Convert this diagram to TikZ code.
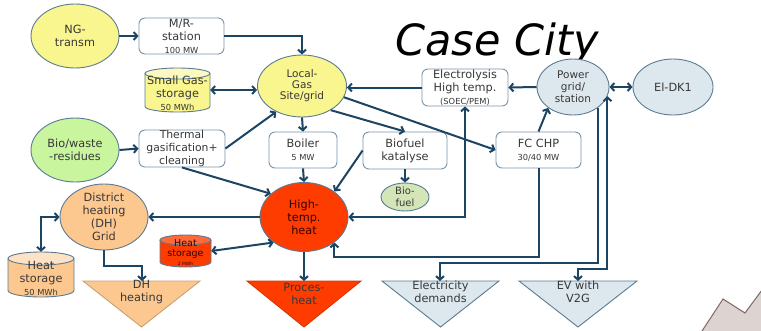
\documentclass[tikz,border=0pt]{standalone}
\usepackage{fontspec}
\setmainfont{DejaVu Sans}
\newfontfamily\titlefont{DejaVu Sans}
\usetikzlibrary{arrows.meta,shapes.geometric,calc}
\definecolor{ylw}{HTML}{F9F58F}
\definecolor{ylwtop}{HTML}{FBF9C0}
\definecolor{grn}{HTML}{C8F59E}
\definecolor{peach}{HTML}{FCC890}
\definecolor{peachtop}{HTML}{FDE2C6}
\definecolor{hot}{HTML}{FF3C00}
\definecolor{hottop}{HTML}{FF6A3A}
\definecolor{lblue}{HTML}{DDE8EE}
\definecolor{bfgrn}{HTML}{D4E6B8}
\definecolor{eborder}{HTML}{5B7B92}
\definecolor{bborder}{HTML}{7A96AA}
\definecolor{arr}{HTML}{1B4563}
\definecolor{txt}{HTML}{383838}
\definecolor{rock}{HTML}{DDD3D0}
\definecolor{rockline}{HTML}{7A6A62}
\newcommand\mycyl[6]{%
  \fill[#6] (#1-#3/2,#2-#4/2+#5) -- (#1-#3/2,#2+#4/2-#5)
    arc[start angle=180,end angle=0,x radius=#3/2,y radius=#5]
    -- (#1+#3/2,#2-#4/2+#5)
    arc[start angle=0,end angle=-180,x radius=#3/2,y radius=#5] -- cycle;
  \draw[eborder,line width=0.9pt] (#1-#3/2,#2-#4/2+#5) -- (#1-#3/2,#2+#4/2-#5)
    arc[start angle=180,end angle=0,x radius=#3/2,y radius=#5]
    -- (#1+#3/2,#2-#4/2+#5);
  \draw[eborder,line width=0.9pt,fill=#6top] (#1,#2-#4/2+#5) ellipse[x radius=#3/2,y radius=#5];
}
\tikzset{
  tip/.tip={Straight Barb[length=3.6pt,width=8pt]},
  conn/.style={draw=arr,line width=2pt,-tip},
  bconn/.style={draw=arr,line width=2pt,tip-tip},
  lbl/.style={align=center,text=txt,font=\fontsize{11.3}{13}\selectfont,inner sep=0pt},
  elli/.style={ellipse,draw=eborder,line width=0.9pt,inner sep=0pt},
  box/.style={rectangle,rounded corners=6pt,draw=bborder,fill=white,line width=0.9pt,inner sep=0pt},
  ghost/.style={rectangle,inner sep=0pt},
  tri/.style={line width=0.9pt},
}
\newcommand\sm[1]{{\fontsize{8.3}{9}\selectfont #1}}
\begin{document}
\begin{tikzpicture}[x=1pt,y=-1pt]
\path[use as bounding box,fill=white] (0,0) rectangle (761,330);
% rock shape lower right
\draw[rockline,line width=1pt,fill=rock] (702,331) -- (723,299) -- (745,313) -- (762,290) -- (762,331);
% title
\node[anchor=base,inner sep=0pt,font=\titlefont\itshape\fontsize{43}{48}\selectfont] (title) at (497,55) {Case City};

% triangles
\draw[tri,draw=peach!80!black,fill=peach] (83,281) -- (200,281) -- (141.5,327) -- cycle;
\draw[tri,draw=hot!85!black,fill=hot] (247,281) -- (361,281) -- (304,327) -- cycle;
\draw[tri,draw=eborder,fill=lblue] (382,281) -- (499,281) -- (440.5,327) -- cycle;
\draw[tri,draw=eborder,fill=lblue] (519,281) -- (637,281) -- (578,327) -- cycle;
\coordinate (dhh) at (142,281);
\coordinate (proc) at (304,281);
\coordinate (ed) at (440,281);
\coordinate (ev) at (578,281);
\node[lbl] (dhhtxt) at (141.5,292.5) {DH\\heating};
\node[lbl] (proctxt) at (304,293.5) {Proces-\\heat};
\node[lbl] (edtxt) at (440.5,292) {Electricity\\demands};
\node[lbl] (evtxt) at (578,291.5) {EV with\\V2G};

% cylinders
\mycyl{177.5}{90}{65}{44}{5.5}{ylw}
\node[ghost,minimum width=65pt,minimum height=44pt] (sgs) at (177.5,90) {};
\node[lbl] (sgstxt) at (177.5,93) {Small Gas-\\storage\\\sm{50 MWh}};
\mycyl{41}{274.5}{66}{45}{6.5}{peach}
\node[ghost,minimum width=66pt,minimum height=45pt] (hs50) at (41,274.5) {};
\node[lbl] (hs50txt) at (41,278.5) {Heat\\storage\\\sm{50 MWh}};
\mycyl{185.5}{251}{51}{32}{5}{hot}
\node[ghost,minimum width=51pt,minimum height=32pt] (hs2) at (185.5,251) {};
\node[lbl,font=\fontsize{9.5}{9.5}\selectfont,text=black!80!red] (hs2txt) at (185.5,253) {Heat\\storage\\{\fontsize{4.5}{5}\selectfont 2 MWh}};

% ellipses
\node[elli,fill=ylw,minimum width=88pt,minimum height=64pt,label={[lbl]center:NG-\\transm}] (ng) at (75,36) {};
\node[elli,fill=ylw,minimum width=89pt,minimum height=62pt,label={[lbl,font=\fontsize{10.5}{11}\selectfont]center:Local-\\Gas\\Site/grid}] (gas) at (302,86) {};
\node[elli,fill=grn,minimum width=88pt,minimum height=64pt,label={[lbl]center:Bio/waste\\-residues}] (bio) at (75,150) {};
\node[elli,fill=lblue,minimum width=72pt,minimum height=56pt,label={[lbl,font=\fontsize{10.5}{12}\selectfont]center:Power\\grid/\\station}] (pg) at (573,87) {};
\node[elli,fill=lblue,minimum width=80pt,minimum height=56pt,label={[lbl]center:El-DK1}] (dk) at (673,87) {};
\node[elli,fill=hot,minimum width=88pt,minimum height=69pt,label={[lbl,text=black!80!red]center:High-\\temp.\\heat}] (heat) at (304,217) {};
\node[elli,fill=peach,minimum width=88pt,minimum height=66pt,label={[lbl]center:District\\heating\\(DH)\\Grid}] (dh) at (104,217) {};
\node[elli,fill=bfgrn,minimum width=48pt,minimum height=28pt,label={[lbl,font=\fontsize{10}{12}\selectfont]center:Bio-\\fuel}] (biofuel) at (405,197) {};

% boxes
\node[box,minimum width=85pt,minimum height=36pt,label={[lbl]center:M/R-\\station\\\sm{100 MW}}] (mr) at (181.5,36) {};
\node[box,minimum width=86pt,minimum height=37pt,label={[lbl,font=\fontsize{10.8}{13}\selectfont]center:Thermal\\gasification+\\cleaning}] (tg) at (182,148.5) {};
\node[box,minimum width=68pt,minimum height=36pt,label={[lbl]center:Boiler\\\sm{5 MW}}] (boiler) at (303,150) {};
\node[box,minimum width=84pt,minimum height=37pt,label={[lbl]center:Biofuel\\katalyse}] (biokat) at (405,150.5) {};
\node[box,minimum width=85pt,minimum height=36pt,label={[lbl]center:FC CHP\\\sm{30/40 MW}}] (fc) at (538.5,150) {};
\node[box,minimum width=86pt,minimum height=37pt,label={[lbl]center:Electrolysis\\High temp.\\\sm{(SOEC/PEM)}}] (el) at (465,87.5) {};

% connectors
\draw[conn] (ng.east) -- (mr.west);
\draw[conn] (mr.east) -| (gas.north);
\draw[bconn] (sgs.east) -- (sgs.east -| gas.west);
\draw[conn] (bio.east) -- (tg.west);
\draw[conn] (tg.east) -- (gas.225);
\draw[conn] (tg.south) -- (heat.145);
\draw[conn] (gas.south) -- (boiler.north);
\draw[conn] (boiler.south) -- (heat.north);
\draw[conn] (gas.-40) -- (biokat.north);
\draw[conn] (gas.-15) -- (fc.west);
\draw[conn] (biokat.west) -- (heat.40);
\draw[conn] (biokat.south) -- (biofuel.north);
\draw[conn] (el.west) -- (el.west -| gas.east);
\draw[conn] (pg.west) -- (el.east);
\draw[bconn] (pg.east) -- (dk.west);
\draw[conn] (fc.north) -- (pg.-140);
\draw[conn] (fc.south) -- ++(0,89) -| (heat.-40);
\draw[bconn] (el.south) |- (heat.east);
\draw[conn] (pg.-40) -- ++(0,155.5) -| (ed);
\draw[bconn] (pg.-15) -- ++(0,173) -| (ev);
\draw[conn] (heat.west) -- (dh.east);
\draw[bconn] (dh.west) -| (hs50.north);
\draw[conn] (dh.south) -- ++(0,16) -| (dhh);
\draw[conn] (heat.south) -- (proc);
\draw[bconn] (heat.-140) -- (hs2.east);
\end{tikzpicture}
\end{document}
